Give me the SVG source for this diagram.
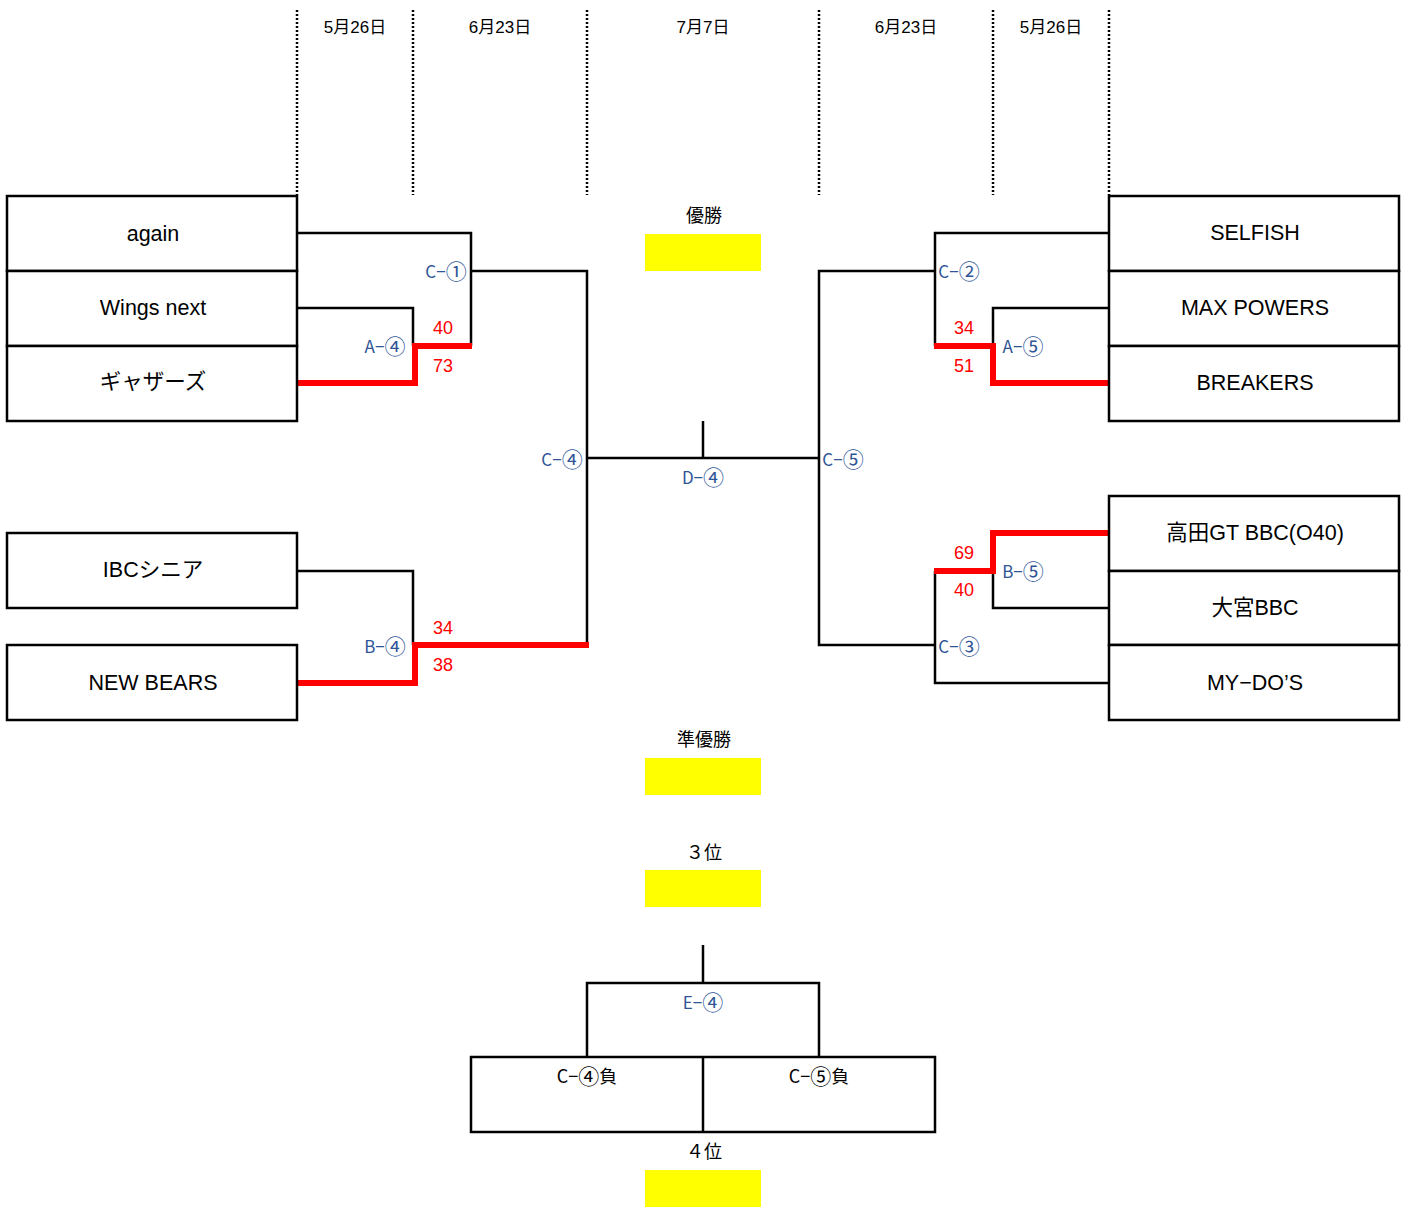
<svg xmlns="http://www.w3.org/2000/svg" width="1408" height="1209" viewBox="0 0 1408 1209">
<style>
text{font-family:"Liberation Sans","Noto Sans CJK JP",sans-serif;text-anchor:middle;dominant-baseline:central}
.box{fill:#fff;stroke:#000;stroke-width:2.5}
.team{font-size:21.5px;fill:#000}
.date{font-size:17px;fill:#000}
.lbl{font-size:17px;fill:#2f5597;font-family:"Noto Sans CJK JP",sans-serif}
.c{font-size:21px}
.sc{font-size:18px;fill:#ff0000}
.ttl{font-size:18px;fill:#000;font-family:"Noto Sans CJK JP",sans-serif}
.ln{fill:none;stroke:#000;stroke-width:2.5}
.win{fill:none;stroke:#ff0000;stroke-width:6}
.dot{stroke:#000;stroke-width:2.5;stroke-dasharray:2,2}
.yel{fill:#ffff00}
</style>
<g id="headers">
<line class="dot" x1="297" y1="10" x2="297" y2="195"/>
<line class="dot" x1="413" y1="10" x2="413" y2="195"/>
<line class="dot" x1="587" y1="10" x2="587" y2="195"/>
<line class="dot" x1="819" y1="10" x2="819" y2="195"/>
<line class="dot" x1="993" y1="10" x2="993" y2="195"/>
<line class="dot" x1="1109" y1="10" x2="1109" y2="195"/>
<text class="date" x="355" y="27">5月26日</text>
<text class="date" x="500" y="27">6月23日</text>
<text class="date" x="703" y="27">7月7日</text>
<text class="date" x="906" y="27">6月23日</text>
<text class="date" x="1051" y="27">5月26日</text>
</g>
<g id="connectors">
<polyline class="ln" points="297,233 471,233 471,346"/>
<polyline class="ln" points="297,308 413,308 413,346"/>
<polyline class="ln" points="471,271 587,271 587,645"/>
<polyline class="ln" points="297,571 413,571 413,645"/>
<line class="ln" x1="587" y1="458" x2="819" y2="458"/>
<line class="ln" x1="703" y1="421" x2="703" y2="458"/>
<polyline class="ln" points="1109,233 935,233 935,346"/>
<polyline class="ln" points="1109,308 993,308 993,346"/>
<polyline class="ln" points="935,271 819,271 819,645 935,645"/>
<polyline class="ln" points="1109,608 993,608 993,571"/>
<polyline class="ln" points="1109,683 935,683 935,571"/>
<polyline class="win" points="297,383 415,383 415,346 472,346"/>
<polyline class="win" points="297,683 415,683 415,645 589,645"/>
<polyline class="win" points="1109,383 993,383 993,346 934,346"/>
<polyline class="win" points="1109,533 993,533 993,571 934,571"/>
<line class="ln" x1="703" y1="945" x2="703" y2="983"/>
<polyline class="ln" points="587,1057 587,983 819,983 819,1057"/>
</g>
<g id="team-again"><rect class="box" x="7" y="196" width="290" height="75"/><text class="team" x="153" y="234" font-size="26">again</text></g>
<g id="team-wings"><rect class="box" x="7" y="271" width="290" height="75"/><text class="team" x="153" y="308" font-size="22">Wings next</text></g>
<g id="team-gatherz"><rect class="box" x="7" y="346" width="290" height="75"/><text class="team" x="153" y="382" font-size="24">ギャザーズ</text></g>
<g id="team-ibc"><rect class="box" x="7" y="533" width="290" height="75"/><text class="team" x="153" y="570" font-size="23">IBCシニア</text></g>
<g id="team-newbears"><rect class="box" x="7" y="645" width="290" height="75"/><text class="team" x="153" y="683">NEW BEARS</text></g>
<g id="team-selfish"><rect class="box" x="1109" y="196" width="290" height="75"/><text class="team" x="1255" y="233">SELFISH</text></g>
<g id="team-maxpowers"><rect class="box" x="1109" y="271" width="290" height="75"/><text class="team" x="1255" y="308">MAX POWERS</text></g>
<g id="team-breakers"><rect class="box" x="1109" y="346" width="290" height="75"/><text class="team" x="1255" y="383">BREAKERS</text></g>
<g id="team-takada"><rect class="box" x="1109" y="496" width="290" height="75"/><text class="team" x="1255" y="533" font-size="23">高田GT BBC(O40)</text></g>
<g id="team-omiya"><rect class="box" x="1109" y="571" width="290" height="74"/><text class="team" x="1255" y="608" font-size="23">大宮BBC</text></g>
<g id="team-mydos"><rect class="box" x="1109" y="645" width="290" height="75"/><text class="team" x="1255" y="683">MY−DO’S</text></g>
<g id="match-labels">
<text class="lbl" x="446" y="270">C−<tspan class="c">①</tspan></text>
<text class="lbl" x="385" y="345">A−<tspan class="c">④</tspan></text>
<text class="lbl" x="385" y="645">B−<tspan class="c">④</tspan></text>
<text class="lbl" x="562" y="458">C−<tspan class="c">④</tspan></text>
<text class="lbl" x="703" y="476">D−<tspan class="c">④</tspan></text>
<text class="lbl" x="843" y="458">C−<tspan class="c">⑤</tspan></text>
<text class="lbl" x="959" y="270">C−<tspan class="c">②</tspan></text>
<text class="lbl" x="1023" y="345">A−<tspan class="c">⑤</tspan></text>
<text class="lbl" x="1023" y="570">B−<tspan class="c">⑤</tspan></text>
<text class="lbl" x="959" y="645">C−<tspan class="c">③</tspan></text>
<text class="lbl" x="703" y="1001">E−<tspan class="c">④</tspan></text>
</g>
<g id="scores">
<text class="sc" x="443" y="328">40</text>
<text class="sc" x="443" y="366">73</text>
<text class="sc" x="443" y="628">34</text>
<text class="sc" x="443" y="665">38</text>
<text class="sc" x="964" y="328">34</text>
<text class="sc" x="964" y="366">51</text>
<text class="sc" x="964" y="553">69</text>
<text class="sc" x="964" y="590">40</text>
</g>
<g id="results">
<text class="ttl" x="704" y="214">優勝</text>
<rect class="yel" x="645" y="234" width="116" height="37"/>
<text class="ttl" x="704" y="738">準優勝</text>
<rect class="yel" x="645" y="758" width="116" height="37"/>
<text class="ttl" x="704" y="851">３位</text>
<rect class="yel" x="645" y="870" width="116" height="37"/>
<text class="ttl" x="704" y="1150">４位</text>
<rect class="yel" x="645" y="1170" width="116" height="37"/>
</g>
<g id="third-place">
<rect class="box" x="471" y="1057" width="464" height="75"/>
<line class="ln" x1="703" y1="1057" x2="703" y2="1132"/>
<text class="ttl" x="587" y="1075">C−<tspan font-size="21">④</tspan>負</text>
<text class="ttl" x="819" y="1075">C−<tspan font-size="21">⑤</tspan>負</text>
</g>
</svg>
